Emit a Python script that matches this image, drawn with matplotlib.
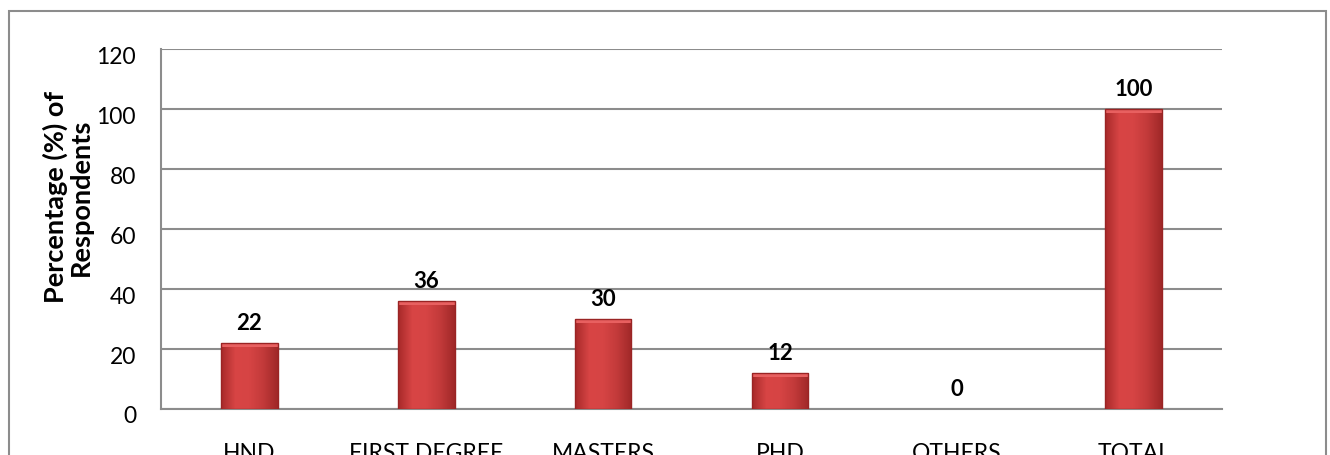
import matplotlib.pyplot as plt
import numpy as np
from matplotlib.patches import Rectangle
from matplotlib.colors import LinearSegmentedColormap
from matplotlib.transforms import ScaledTranslation

categories = ["HND", "FIRST DEGREE", "MASTERS", "PHD", "OTHERS", "TOTAL"]
percentages = [22, 36, 30, 12, 0, 100]
y_ticks = [0, 20, 40, 60, 80, 100, 120]

plt.rcParams['font.family'] = ['Lato', 'DejaVu Sans']

fig = plt.figure(figsize=(13.3, 4.56), dpi=100)
ax = fig.add_axes([161 / 1330, 1 - 410 / 456, 1061 / 1330, 360 / 456])

# cadre extérieur du graphique (coupé en bas comme sur l'image)
fig.patches.append(Rectangle((9 / 1330, -0.1), 1317 / 1330, 1.1 - 12 / 456,
                             transform=fig.transFigure, fill=False,
                             edgecolor='#8c8c8c', linewidth=1.5))

x = range(len(categories))
bars = ax.bar(x, percentages, width=0.32, color='#cc3b3b',
              edgecolor='none', zorder=3)

# dégradé horizontal pour imiter l'effet biseauté
bevel = LinearSegmentedColormap.from_list(
    'bevel', ['#a82a2a', '#d84545', '#d64444', '#c23a3a', '#a02828'])
grad = np.linspace(0, 1, 64).reshape(1, -1)
for b, v in zip(bars, percentages):
    if v == 0:
        continue
    x0, w = b.get_x(), b.get_width()
    im = ax.imshow(grad, cmap=bevel, aspect='auto', zorder=4,
                   extent=(x0, x0 + w, 0, v))
    im.set_clip_path(b)
    ax.add_patch(Rectangle((x0, v - 1.2), w, 1.2, color='#e86060', zorder=5,
                           linewidth=0))
    ax.add_patch(Rectangle((x0, 0), w, v, fill=False, edgecolor='#9a2424',
                           linewidth=1.0, zorder=6))

for b, v in zip(bars, percentages):
    ax.annotate(str(v), (b.get_x() + b.get_width() / 2, v),
                xytext=(0, 7), textcoords='offset points',
                ha='center', va='bottom', fontsize=16, fontweight='bold')

ax.set_xlim(-0.5, len(categories) - 0.5)
ax.set_ylim(0, 120)
ax.set_yticks(y_ticks)
ax.set_xticks(list(x))
ax.set_xticklabels(categories)
ax.yaxis.grid(True, color='#8c8c8c', linewidth=1.5, zorder=0)
ax.set_axisbelow(True)

for side in ['top', 'right']:
    ax.spines[side].set_visible(False)
for side in ['left', 'bottom']:
    ax.spines[side].set_color('#8c8c8c')
    ax.spines[side].set_linewidth(1.5)

ax.tick_params(axis='both', length=0, labelsize=16.5)
ax.tick_params(axis='y', pad=18)
ax.tick_params(axis='x', pad=24)

# les étiquettes de l'axe y sont un peu sous les lignes dans l'original
shift = ScaledTranslation(0, -5 / 100, fig.dpi_scale_trans)
for lab in ax.get_yticklabels():
    lab.set_transform(lab.get_transform() + shift)

fig.text(68 / 1330, 1 - 197 / 456, "Percentage (%) of\nRespondents",
         rotation=90, ha='center', va='center', fontsize=19.5,
         fontweight='bold', linespacing=1.05)

fig.savefig("out.png", dpi=100)
